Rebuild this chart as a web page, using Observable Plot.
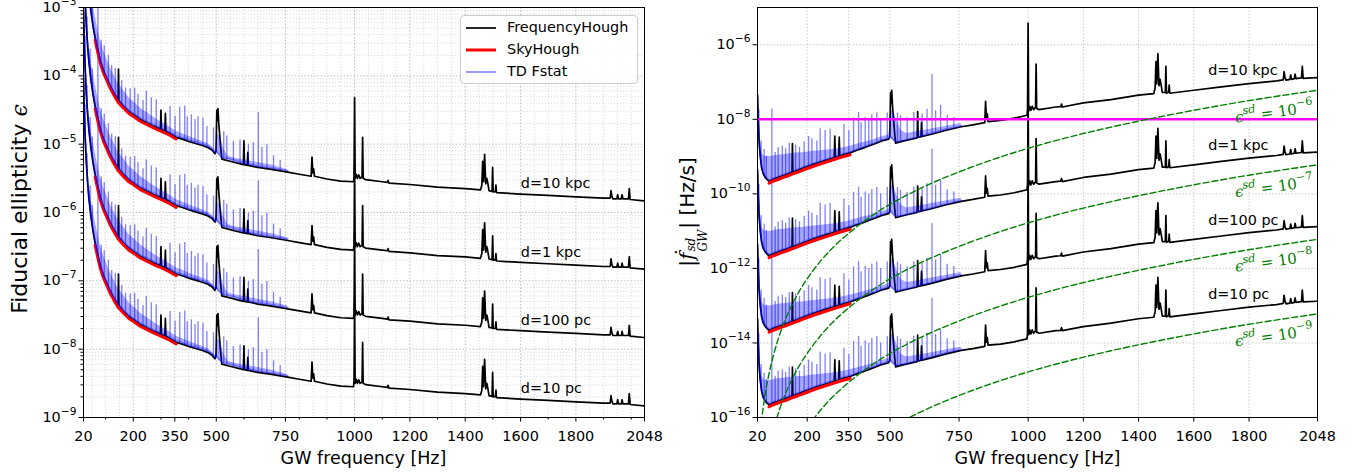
<!DOCTYPE html>
<html>
<head>
<meta charset="utf-8">
<script src="https://cdn.jsdelivr.net/npm/d3@7"></script>
<script src="https://cdn.jsdelivr.net/npm/@observablehq/plot@0.6"></script>
<style>
  html, body { margin: 0; padding: 0; background: #fff; }
  body { font-family: "DejaVu Sans", sans-serif; color: #000; }
  #wrap { position: relative; width: 1372px; height: 476px; overflow: hidden; background: #fff; }
  .panel { position: absolute; top: 0; }
  .lab { position: absolute; white-space: nowrap; line-height: 1; }
  .xlab { transform: translate(-50%, -50%); }
  .ylab { transform: translate(-50%, -50%) rotate(-90deg); }
  .math { font-family: "DejaVu Serif", serif; font-style: italic; }
  .stack { display: inline-flex; flex-direction: column; font-size: 0.6em; line-height: 1.05; vertical-align: -0.05em; margin: 0 1px; }
  #legend { position: absolute; left: 460px; top: 15px; width: 176px; height: 67px; border: 1px solid #cccccc; border-radius: 4px; background: rgba(255,255,255,0.85); font-size: 14.4px; }
  #legend .row { position: absolute; left: 0; height: 20px; width: 100%; }
  #legend .row svg { position: absolute; left: 4px; top: 8px; }
  #legend .row span { position: absolute; left: 46px; top: 1px; line-height: 17px; }
</style>
</head>
<body>
<div id="wrap"></div>
<script>
// ---------------- data ----------------
const freqTicks = [20, 200, 350, 500, 750, 1000, 1200, 1400, 1600, 1800, 2048];
const distanceLabels = ["d=10 pc", "d=100 pc", "d=1 kpc", "d=10 kpc"];
const ellipticityShift = [0, 1, 2, 3];   // decades relative to d=10 pc (left)
const spindownShift = [0, 2, 4, 6];      // decades relative to d=10 pc (right)
const leftDecades = [1e-9, 1e-8, 1e-7, 1e-6, 1e-5, 1e-4, 1e-3];
const rightDecades = [1e-16, 1e-14, 1e-12, 1e-10, 1e-8, 1e-6];

// FrequencyHough, d = 10 pc: [frequency Hz, log10 ellipticity]
const fhEllipticity = [[20,-4.04],[23,-4.51],[26,-4.9],[30,-5.25],[35,-5.57],[40,-5.815],[47,-6.065],[55,-6.286],[62,-6.45],[70,-6.6],[80,-6.78],[92,-6.93],[105,-7.05],[117,-7.16],[129,-7.25],[145,-7.36],[146.5,-6.9],[148,-7.37],[165,-7.45],[185,-7.53],[200,-7.57],[225,-7.64],[250,-7.69],[275,-7.74],[298,-7.78],[300,-7.5],[302,-7.79],[314,-7.8],[316,-7.55],[318,-7.81],[330,-7.84],[355,-7.9],[380,-7.93],[400,-7.96],[425,-7.99],[450,-8.02],[470,-8.05],[485,-8.09],[495,-8.14],[499,-8.1],[502,-7.5],[504,-7.65],[506,-7.48],[509,-7.7],[512,-7.85],[516,-8.05],[520,-8.22],[550,-8.25],[598,-8.3],[600,-7.95],[602,-8.3],[612,-8.31],[614,-8.12],[616,-8.31],[650,-8.34],[700,-8.37],[758,-8.41],[800,-8.44],[843,-8.47],[846,-8.19],[849,-8.42],[852,-8.36],[855,-8.47],[900,-8.51],[950,-8.54],[996,-8.55],[998,-8.47],[1000,-7.32],[1002,-8.5],[1006,-8.44],[1010,-8.5],[1015,-8.45],[1020,-8.5],[1027,-8.48],[1029,-7.9],[1031,-8.5],[1040,-8.52],[1100,-8.55],[1118,-8.56],[1121,-8.53],[1124,-8.57],[1200,-8.59],[1300,-8.63],[1400,-8.65],[1455,-8.67],[1460,-8.6],[1463,-8.25],[1466,-8.55],[1470,-8.15],[1474,-8.58],[1478,-8.5],[1482,-8.58],[1486,-8.68],[1497,-8.69],[1499,-8.34],[1501,-8.7],[1509,-8.69],[1511,-8.6],[1513,-8.71],[1600,-8.73],[1700,-8.75],[1800,-8.77],[1900,-8.79],[1924,-8.79],[1927,-8.68],[1930,-8.76],[1934,-8.8],[1948,-8.8],[1951,-8.74],[1954,-8.8],[1964,-8.8],[1967,-8.74],[1970,-8.8],[1990,-8.8],[1993,-8.65],[1996,-8.81],[2048,-8.83]];

// SkyHough, d = 10 pc
const shEllipticity = [[62,-6.48],[70,-6.63],[80,-6.805],[92,-6.955],[105,-7.075],[117,-7.185],[129,-7.275],[145,-7.385],[165,-7.475],[185,-7.555],[201,-7.595],[225,-7.665],[250,-7.715],[275,-7.765],[304,-7.815],[330,-7.865],[355,-7.925]];

// TD Fstat band (lower / upper envelope), d = 10 pc
const tdFreq = [20,23,26,30,35,40,47,55,62,70,80,92,105,117,129,145,165,185,200,225,250,275,300,330,355,380,400,425,450,470,485,495,500,505,515,525,540,560,600,650,700,758];
const tdEllLow = [-4.02,-4.49,-4.88,-5.23,-5.55,-5.795,-6.045,-6.266,-6.43,-6.58,-6.76,-6.91,-7.03,-7.14,-7.23,-7.34,-7.43,-7.51,-7.55,-7.62,-7.67,-7.72,-7.77,-7.82,-7.88,-7.91,-7.94,-7.97,-8.0,-8.03,-8.07,-8.12,-8.1,-8.13,-8.17,-8.2,-8.21,-8.23,-8.28,-8.32,-8.35,-8.39];
const tdEllHigh = [-3.96,-4.46,-4.85,-5.15,-5.37,-5.565,-5.79,-5.98,-6.12,-6.285,-6.47,-6.63,-6.76,-6.885,-6.98,-7.11,-7.215,-7.325,-7.375,-7.47,-7.54,-7.61,-7.675,-7.745,-7.81,-7.85,-7.885,-7.925,-7.96,-7.995,-8.04,-8.1,-8.05,-7.85,-7.9,-8.05,-8.17,-8.2,-8.23,-8.27,-8.31,-8.37];
// TD Fstat lines: [frequency, foot, peak] (log10 ellipticity, d = 10 pc)
const tdEllSpikes = [[25,-4.77,-4.42],[33,-5.44,-5.14],[44,-5.96,-5.61],[52,-6.2,-5.9],[72,-6.64,-5.69],[84,-6.83,-6.48],[95,-6.96,-6.56],[110,-7.1,-6.7],[122,-7.2,-6.85],[135,-7.29,-6.89],[158,-7.42,-7.07],[172,-7.48,-7.18],[189,-7.54,-7.19],[205,-7.58,-7.18],[217,-7.62,-7.27],[235,-7.66,-7.36],[247,-7.68,-7.23],[265,-7.72,-7.32],[283,-7.75,-7.35],[333,-7.85,-7.45],[351,-7.89,-7.59],[368,-7.91,-7.46],[386,-7.94,-7.44],[395,-7.95,-7.6],[410,-7.97,-7.57],[423,-7.99,-7.64],[434,-8.0,-7.6],[452,-8.02,-7.62],[466,-8.04,-7.74],[490,-8.11,-7.76],[527,-8.22,-7.82],[538,-8.23,-7.88],[562,-8.26,-7.96],[586,-8.29,-7.94],[616,-8.31,-8.01],[634,-8.33,-7.98],[652,-8.34,-7.54],[665,-8.35,-8.05],[683,-8.36,-8.01],[707,-8.37,-8.17],[731,-8.39,-8.24]];

// Right panel, d = 10 pc: [frequency, log10 |fdot| (Hz/s)]
const fhSpindown = [[20,-13.36],[23,-14.1],[26,-14.6],[30,-15.0],[35,-15.3],[40,-15.45],[47,-15.55],[55,-15.62],[62,-15.66],[70,-15.63],[80,-15.6],[92,-15.57],[105,-15.53],[117,-15.5],[129,-15.47],[145,-15.42],[146.5,-14.65],[148,-15.42],[165,-15.37],[185,-15.31],[200,-15.27],[225,-15.2],[250,-15.14],[275,-15.08],[298,-15.03],[300,-14.45],[302,-15.02],[314,-15.0],[316,-14.48],[318,-14.99],[330,-14.95],[355,-14.9],[380,-14.83],[400,-14.78],[425,-14.71],[450,-14.64],[470,-14.58],[485,-14.55],[495,-14.53],[499,-14.47],[502,-13.28],[504,-13.57],[506,-13.22],[509,-13.65],[512,-13.93],[516,-14.32],[520,-14.64],[550,-14.58],[598,-14.5],[600,-13.79],[602,-14.48],[612,-14.47],[614,-14.08],[616,-14.46],[650,-14.4],[700,-14.3],[758,-14.2],[800,-14.15],[843,-14.09],[846,-13.52],[849,-13.98],[852,-13.85],[855,-14.06],[900,-14.03],[950,-13.97],[996,-13.89],[998,-13.72],[1000,-11.42],[1002,-13.78],[1006,-13.65],[1010,-13.76],[1015,-13.65],[1020,-13.74],[1027,-13.68],[1029,-12.52],[1031,-13.71],[1040,-13.74],[1100,-13.67],[1118,-13.66],[1121,-13.59],[1124,-13.67],[1200,-13.56],[1300,-13.47],[1400,-13.35],[1455,-13.31],[1460,-13.16],[1463,-12.45],[1466,-13.05],[1470,-12.24],[1474,-13.1],[1478,-12.93],[1482,-13.09],[1486,-13.28],[1497,-13.28],[1499,-12.58],[1501,-13.3],[1509,-13.27],[1511,-13.08],[1513,-13.3],[1600,-13.22],[1700,-13.13],[1800,-13.04],[1900,-12.97],[1924,-12.94],[1927,-12.72],[1930,-12.87],[1934,-12.95],[1948,-12.93],[1951,-12.81],[1954,-12.93],[1964,-12.91],[1967,-12.79],[1970,-12.91],[1990,-12.89],[1993,-12.58],[1996,-12.9],[2048,-12.88]];
const shSpindown = [[62,-15.71],[70,-15.68],[80,-15.65],[92,-15.62],[105,-15.58],[117,-15.55],[129,-15.52],[145,-15.47],[165,-15.42],[185,-15.36],[200,-15.32],[225,-15.25],[250,-15.19],[275,-15.13],[300,-15.07],[330,-15.0],[355,-14.95]];
const tdSdLow = [-13.33,-14.07,-14.57,-14.97,-15.27,-15.42,-15.52,-15.59,-15.63,-15.6,-15.57,-15.54,-15.5,-15.47,-15.44,-15.39,-15.34,-15.28,-15.24,-15.17,-15.11,-15.05,-14.99,-14.92,-14.87,-14.8,-14.75,-14.68,-14.61,-14.55,-14.52,-14.5,-14.45,-14.5,-14.57,-14.6,-14.58,-14.55,-14.47,-14.37,-14.27,-14.17];
const tdSdHigh = [-13.2,-14.0,-14.5,-14.8,-14.9,-14.95,-15.0,-15.0,-15.0,-15.0,-14.98,-14.97,-14.95,-14.95,-14.93,-14.92,-14.9,-14.9,-14.88,-14.86,-14.84,-14.82,-14.8,-14.76,-14.72,-14.67,-14.63,-14.58,-14.52,-14.47,-14.44,-14.42,-14.2,-13.75,-13.85,-14.05,-14.3,-14.38,-14.33,-14.26,-14.19,-14.11];
const tdSdSpikes = [[25,-14.45,-13.75],[33,-15.18,-14.58],[44,-15.51,-14.81],[52,-15.59,-14.99],[72,-15.62,-13.72],[84,-15.59,-14.89],[95,-15.56,-14.76],[110,-15.52,-14.72],[122,-15.49,-14.79],[135,-15.45,-14.65],[158,-15.39,-14.69],[172,-15.35,-14.75],[189,-15.3,-14.6],[205,-15.26,-14.46],[217,-15.22,-14.52],[235,-15.18,-14.58],[247,-15.15,-14.25],[265,-15.1,-14.3],[283,-15.06,-14.26],[333,-14.94,-14.14],[351,-14.91,-14.31],[368,-14.86,-13.96],[386,-14.82,-13.82],[395,-14.79,-14.09],[410,-14.75,-13.95],[423,-14.71,-14.01],[434,-14.68,-13.88],[452,-14.63,-13.83],[466,-14.6,-14.0],[490,-14.53,-13.83],[527,-14.63,-13.83],[538,-14.6,-13.9],[562,-14.56,-13.96],[586,-14.52,-13.82],[616,-14.46,-13.86],[634,-14.43,-13.73],[652,-14.4,-12.8],[665,-14.37,-13.77],[683,-14.33,-13.63],[707,-14.29,-13.89],[731,-14.25,-13.95]];

// spin-down limit curve for eps_sd = 1e-6 (others lie 2 decades apart)
const epsSdExponents = [-6, -7, -8, -9];
const epsSdCurve = [[30,-16.39],[36,-16.0],[45,-15.51],[60,-14.89],[80,-14.27],[100,-13.78],[130,-13.21],[170,-12.63],[220,-12.07],[280,-11.54],[350,-11.06],[450,-10.51],[600,-9.89],[750,-9.41],[900,-9.01],[1100,-8.57],[1300,-8.21],[1500,-7.9],[1750,-7.56],[2048,-7.22]];
const magentaLevel = [1e-8];

// text label anchors: [frequency, log10 value for d=10 pc / eps=1e-6]
const ellLabelPos = [1601, -8.58];
const sdLabelPos = [1652, -12.70];
const epsLabelPos = [2032, -7.67];

// ---------------- helpers ----------------
const tdEllBand = tdFreq.map((f, i) => ({f, lo: tdEllLow[i], hi: tdEllHigh[i]}));
const tdSdBand = tdFreq.map((f, i) => ({f, lo: tdSdLow[i], hi: tdSdHigh[i]}));
const xMinorGrid = d3.range(50, 2048, 50).filter(v => !freqTicks.includes(v));
const xMinorTicks = d3.range(100, 2048, 100).filter(v => !freqTicks.includes(v));
const yMinorLeft = leftDecades.slice(0, -1).flatMap(d => [2,3,4,5,6,7,8,9].map(k => k * d));
const supFmt = d => "10^{\u2212" + Math.round(-Math.log10(d)) + "}";

function curveMarks(shift, fh, sh, band, spikes, lw) {
  return [
    Plot.line(fh, {x: d => d[0], y: d => 10 ** (d[1] + shift), stroke: "black", strokeWidth: 1.7, clip: true}),
    Plot.line(sh, {x: d => d[0], y: d => 10 ** (d[1] + shift), stroke: "red", strokeWidth: lw, clip: true}),
    Plot.areaY(band, {x: "f", y1: d => 10 ** (d.lo + shift), y2: d => 10 ** (d.hi + shift), fill: "blue", fillOpacity: 0.34, clip: true}),
    Plot.line(band, {x: "f", y: d => 10 ** (d.lo + shift), stroke: "blue", strokeOpacity: 0.5, strokeWidth: 1.6, clip: true}),
    Plot.ruleX(spikes, {x: d => d[0], y1: d => 10 ** (d[1] + shift), y2: d => 10 ** (d[2] + shift), stroke: "blue", strokeOpacity: 0.5, strokeWidth: 1.3, clip: true})
  ];
}

const baseStyle = {fontFamily: "'DejaVu Sans', sans-serif", fontSize: "14.4px", background: "transparent", overflow: "visible", color: "black"};

// ---------------- left panel ----------------
const left = Plot.plot({
  width: 661, height: 476, marginTop: 7, marginRight: 17, marginBottom: 59, marginLeft: 83,
  style: baseStyle,
  x: {domain: [20, 2048]},
  y: {type: "log", domain: [1e-9, 1e-3]},
  marks: [
    Plot.gridX(xMinorGrid, {stroke: "#d4d4d4", strokeOpacity: 1, strokeWidth: 0.8, strokeDasharray: "1.2,1.8"}),
    Plot.gridY(yMinorLeft, {stroke: "#d4d4d4", strokeOpacity: 1, strokeWidth: 0.8, strokeDasharray: "1.2,1.8"}),
    Plot.gridX(freqTicks, {stroke: "#b8b8b8", strokeOpacity: 1, strokeWidth: 0.9, strokeDasharray: "1.5,1.8"}),
    Plot.gridY(leftDecades, {stroke: "#b8b8b8", strokeOpacity: 1, strokeWidth: 0.9, strokeDasharray: "1.5,1.8"}),
    ...ellipticityShift.flatMap(s => curveMarks(s, fhEllipticity, shEllipticity, tdEllBand, tdEllSpikes, 3)),
    Plot.text(distanceLabels, {x: () => ellLabelPos[0], y: (d, i) => 10 ** (ellLabelPos[1] + ellipticityShift[i]), text: d => d, textAnchor: "start", fontSize: 14.4, fill: "black"}),
    Plot.frame({stroke: "black", strokeWidth: 1}),
    Plot.axisX({ticks: freqTicks, tickFormat: d => String(d), tickSize: 4.5, tickPadding: 9, label: null}),
    Plot.axisX({ticks: xMinorTicks, tickFormat: () => "", tickSize: 2.5, label: null}),
    Plot.axisY({ticks: leftDecades, tickFormat: supFmt, tickSize: 4.5, tickPadding: 2.5, label: null}),
    Plot.axisY({ticks: yMinorLeft, tickFormat: () => "", tickSize: 2.5, label: null})
  ]
});

// ---------------- right panel ----------------
const right = Plot.plot({
  width: 692, height: 476, marginTop: 7, marginRight: 55, marginBottom: 59, marginLeft: 77,
  style: baseStyle,
  x: {domain: [20, 2048]},
  y: {type: "log", domain: [1e-16, 1e-5]},
  marks: [
    Plot.gridX(freqTicks, {stroke: "#c4c4c4", strokeOpacity: 1, strokeWidth: 0.9, strokeDasharray: "1.5,1.8"}),
    Plot.gridY(rightDecades, {stroke: "#c4c4c4", strokeOpacity: 1, strokeWidth: 0.9, strokeDasharray: "1.5,1.8"}),
    ...spindownShift.flatMap(s => curveMarks(s, fhSpindown, shSpindown, tdSdBand, tdSdSpikes, 3.2)),
    Plot.ruleY(magentaLevel, {stroke: "magenta", strokeWidth: 2.6}),
    ...epsSdExponents.map(e => Plot.line(epsSdCurve, {x: d => d[0], y: d => 10 ** (d[1] + 2 * (e + 6)), stroke: "green", strokeWidth: 1.4, strokeDasharray: "6,3", curve: "monotone-x", clip: true})),
    Plot.text(distanceLabels, {x: () => sdLabelPos[0], y: (d, i) => 10 ** (sdLabelPos[1] + spindownShift[i]), text: d => d, textAnchor: "start", fontSize: 14.4, fill: "black"}),
    Plot.text(epsSdExponents, {x: () => epsLabelPos[0], y: e => 10 ** (epsLabelPos[1] + 2 * (e + 6)), text: e => "\u03f5^{sd} = 10^{\u2212" + (-e) + "}", textAnchor: "end", rotate: -8, fill: "green", fontFamily: "'DejaVu Serif', serif", fontSize: 15}),
    Plot.frame({stroke: "black", strokeWidth: 1}),
    Plot.axisX({ticks: freqTicks, tickFormat: d => String(d), tickSize: 4.5, tickPadding: 9, label: null}),
    Plot.axisY({ticks: rightDecades, tickFormat: supFmt, tickSize: 4.5, tickPadding: 2.5, label: null})
  ]
});

// ---------------- assemble ----------------
const wrap = document.getElementById("wrap");
function place(node, x) {
  const div = document.createElement("div");
  div.className = "panel";
  div.style.left = x + "px";
  div.appendChild(node);
  wrap.appendChild(div);
}
place(left, 0);
place(right, 680);

// convert ^{..} / _{..} markup into real superscript / subscript tspans
const SVGNS = "http://www.w3.org/2000/svg";
function richText(root) {
  root.querySelectorAll("text").forEach(t => {
    const s = t.textContent;
    if (!/[\^_]\{/.test(s)) return;
    const fs = parseFloat(getComputedStyle(t).fontSize) || 14.4;
    while (t.firstChild) t.removeChild(t.firstChild);
    const re = /([\^_])\{([^}]*)\}/g;
    let last = 0, m, cur = 0;
    const add = (txt, kind) => {
      const ts = document.createElementNS(SVGNS, "tspan");
      ts.textContent = txt;
      const target = kind === "^" ? -0.5 * fs : kind === "_" ? 0.22 * fs : 0;
      if (target !== cur) ts.setAttribute("dy", (target - cur).toFixed(2));
      cur = target;
      if (kind) ts.setAttribute("font-size", (0.74 * fs).toFixed(2));
      if (/^[A-Za-z\u03f5]+$/.test(txt) && t.closest("[font-family]")) ts.setAttribute("font-style", "italic");
      t.appendChild(ts);
    };
    while ((m = re.exec(s))) {
      if (m.index > last) add(s.slice(last, m.index), null);
      add(m[2], m[1]);
      last = re.lastIndex;
    }
    if (last < s.length) add(s.slice(last), null);
  });
}
richText(left);
richText(right);

// axis titles and legend
function label(cls, x, y, size, html) {
  const d = document.createElement("div");
  d.className = "lab " + cls;
  d.style.left = x + "px";
  d.style.top = y + "px";
  d.style.fontSize = size + "px";
  d.innerHTML = html;
  wrap.appendChild(d);
}
label("xlab", 363.5, 459, 17.5, "GW frequency [Hz]");
label("xlab", 1037.5, 459, 17.5, "GW frequency [Hz]");
label("ylab", 20, 209, 22, "Fiducial ellipticity <span class='math'>\u03f5</span>");
label("ylab", 693, 212, 20, "<span class='math'>|\u1e1f<span class='stack'><span>sd</span><span>GW</span></span>|</span> [Hz/s]");

const legendItems = ["FrequencyHough", "SkyHough", "TD Fstat"];
const legendStroke = [["black", 1, 1.7], ["red", 1, 3], ["blue", 0.5, 1.6]];
const legend = document.createElement("div");
legend.id = "legend";
legendItems.forEach((name, i) => {
  const row = document.createElement("div");
  row.className = "row";
  row.style.top = (2 + i * 22) + "px";
  const [c, o, w] = legendStroke[i];
  row.innerHTML = `<svg width="32" height="4"><line x1="1" x2="31" y1="2" y2="2" stroke="${c}" stroke-opacity="${o}" stroke-width="${w}"/></svg><span>${name}</span>`;
  legend.appendChild(row);
});
wrap.appendChild(legend);
</script>
</body>
</html>
